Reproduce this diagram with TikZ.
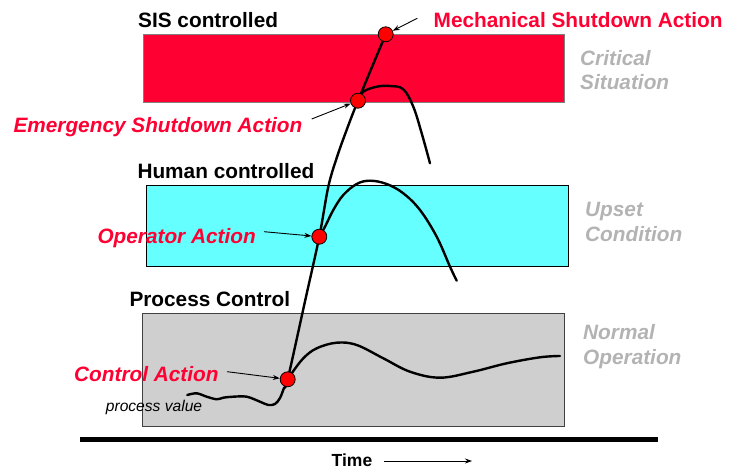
\documentclass[tikz,border=0pt]{standalone}
\usepackage{fontspec}
\setmainfont{Liberation Sans}
\usetikzlibrary{arrows.meta}
\definecolor{sisred}{HTML}{FF0033}
\definecolor{upcyan}{HTML}{66FFFF}
\definecolor{normgray}{HTML}{CFCFCF}
\definecolor{stategray}{HTML}{B3B3B3}
\definecolor{dotred}{HTML}{FF0000}
\begin{document}
\begin{tikzpicture}[x=1pt,y=-1pt,
  zone/.style={anchor=north west, inner sep=0pt, outer sep=0pt, line width=1pt},
  lbl/.style={anchor=base west, inner sep=0pt, font=\fontsize{20.8}{24}\selectfont\bfseries},
  actlbl/.style={anchor=base west, inner sep=0pt, text=sisred, font=\fontsize{20.8}{24}\selectfont\bfseries\itshape},
  statelbl/.style={anchor=base west, inner sep=0pt, text=stategray, font=\fontsize{20.8}{24}\selectfont\bfseries\itshape},
  dotnode/.style={circle, fill=dotred, draw=black, line width=0.8pt, minimum size=15pt, inner sep=0pt},
  curve/.style={line width=2.4pt, line cap=round, line join=round},
  pointer/.style={-{Stealth[length=7pt,width=5pt]}, line width=0.9pt}]
\useasboundingbox (0,0) rectangle (740,470);

% zones
\node[zone, draw=gray, fill=sisred, minimum width=421pt, minimum height=68pt] (sis) at (143,34.3) {};
\node[zone, draw=black, fill=upcyan, minimum width=421.5pt, minimum height=81pt] (human) at (146.5,186) {};
\node[zone, draw=black!75, fill=normgray, minimum width=422.5pt, minimum height=112.7pt] (proc) at (142.3,314) {};

% time axis
\coordinate (axL) at (80,440);
\coordinate (axR) at (658,440);
\draw[line width=5pt] (axL) -- (axR);

% curves
\draw[curve] plot[smooth, tension=0.55] coordinates {
  (187.3,395) (196.7,393.3) (206.7,396.7) (216.7,399.3) (223.3,397.7) (233.3,396.7)
  (246.7,396.7) (260,401.7) (268.3,405) (275,404) (280,398) (284,388) (287.7,379.3)
  (305.3,300) (319.3,236.7) (328.3,186.7) (337,157) (347,129) (358,100.7) (385.7,34.3)};
\draw[curve] plot[smooth, tension=0.6] coordinates {
  (287.7,379.3) (291.7,373.3) (303.3,358.3) (316.7,348.3) (336.7,342.7) (356.7,345)
  (383.3,358.3) (410,371.7) (440,377.7) (473.3,371.7) (506.7,363.3) (540,357.3) (560,356)};
\draw[curve] plot[smooth, tension=0.6] coordinates {
  (319.3,236.7) (325,226.7) (333.3,210) (343.3,195) (356.7,184) (370,180.7) (386.7,184)
  (403.3,193.3) (420,210) (436.7,236.7) (450,266.7) (456.7,280.7)};
\draw[curve] plot[smooth, tension=0.6] coordinates {
  (358,100.7) (363.3,91.7) (376.7,86.7) (390,86) (403.3,89.3) (413.3,106.7) (421.7,133.3) (430,163.3)};

% dots
\node[dotnode] (mech) at (385.7,34.3) {};
\node[dotnode] (esd) at (358,100.7) {};
\node[dotnode] (oper) at (319.3,236.7) {};
\node[dotnode] (ctrl) at (287.7,379.3) {};

% pointers
\coordinate (pm) at (417.3,18.3);
\coordinate (pe) at (311.7,119);
\coordinate (po) at (264,231.7);
\coordinate (pc) at (227,371.7);
\draw[pointer] (pm) -- (mech);
\draw[pointer] (pe) -- (esd);
\draw[pointer] (po) -- (oper);
\draw[pointer] (pc) -- (ctrl);

% zone titles
\node[lbl] (tsis) at (138,27.7) {SIS controlled};
\node[lbl] (thum) at (137.3,178.3) {Human controlled};
\node[lbl] (tproc) at (129.3,306.7) {Process Control};

% action labels
\node[lbl, text=sisred] (lmech) at (433.5,27.7) {Mechanical Shutdown Action};
\node[actlbl] (lesd) at (13.3,132.7) {Emergency Shutdown Action};
\node[actlbl] (loper) at (97.3,243.3) {Operator Action};
\node[actlbl] (lctrl) at (74,381.7) {Control Action};

% state labels
\node[statelbl] (s1a) at (580,65.7) {Critical};
\node[statelbl] (s1b) at (580,90) {Situation};
\node[statelbl] (s2a) at (585,216.7) {Upset};
\node[statelbl] (s2b) at (585,241.7) {Condition};
\node[statelbl] (s3a) at (583,340) {Normal};
\node[statelbl] (s3b) at (583,365) {Operation};

% process value
\node[anchor=base west, inner sep=0pt, font=\fontsize{15.6}{18}\selectfont\itshape] (pv) at (105.7,411.7) {process value};

% time
\node[anchor=base west, inner sep=0pt, font=\fontsize{17.5}{20}\selectfont\bfseries] (time) at (331.5,466.5) {Time};
\coordinate (ta) at (384,461);
\coordinate (tb) at (472,461);
\draw[pointer, line width=0.8pt] (ta) -- (tb);
\end{tikzpicture}
\end{document}
